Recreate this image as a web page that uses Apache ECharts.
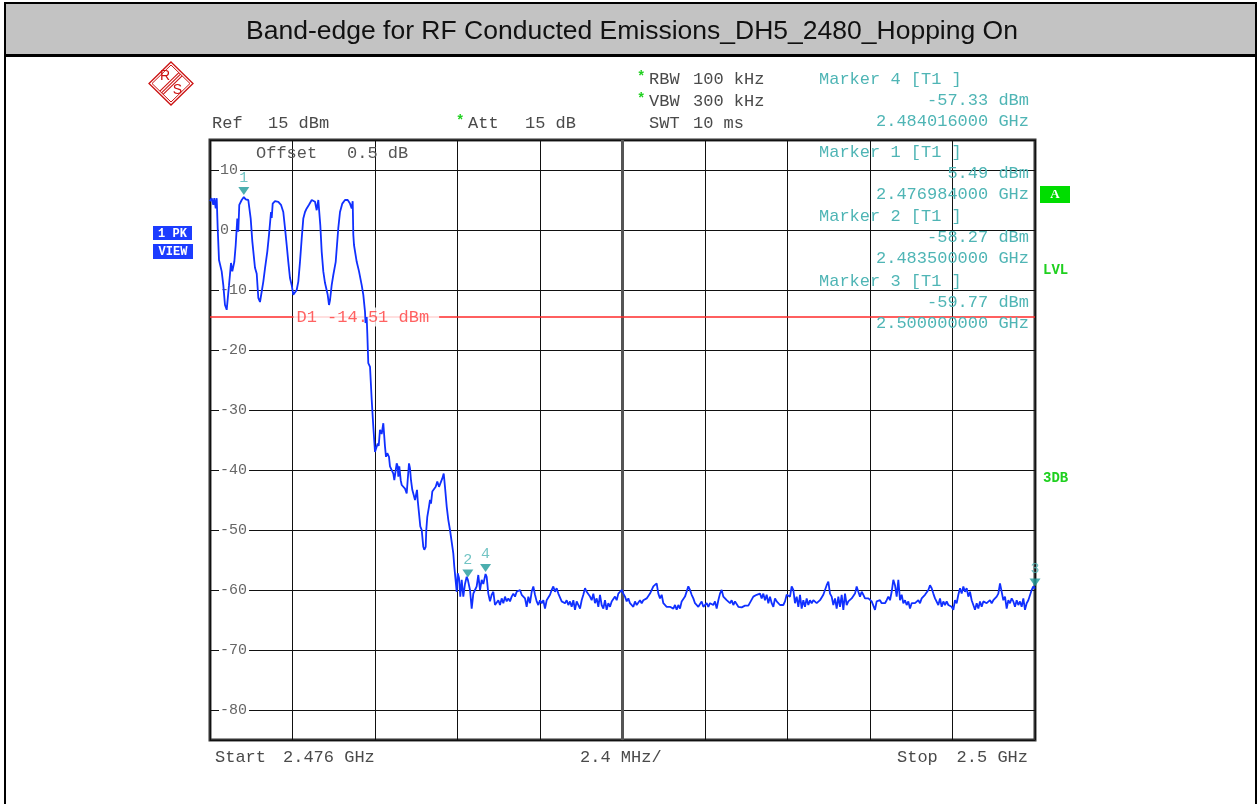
<!DOCTYPE html>
<html><head><meta charset="utf-8">
<script src="https://cdn.jsdelivr.net/npm/echarts@6/dist/echarts.min.js"></script>
<style>html,body{margin:0;padding:0;background:#fff}#c{width:1259px;height:804px}</style>
</head><body><div id="c"></div>
<script>
// ---------------- data ----------------
const chartTitle = 'Band-edge for RF Conducted Emissions_DH5_2480_Hopping On';
const startMHz = 2476, stopMHz = 2500, divMHz = 2.4;
const refLevelDbm = 15, bottomLevelDbm = -85;
const attDb = 15, offsetDb = 0.5;
const rbwText = '100 kHz', vbwText = '300 kHz', swtText = '10 ms';
const d1LevelDbm = -14.51;

// irregular part of the sweep: [frequency MHz, level dBm]
const traceHead = [
 [2476.000,4.8],[2476.049,5.3],[2476.096,4.2],[2476.125,5.3],[2476.166,3.6],[2476.195,5.3],[2476.224,0.3],[2476.262,-5],
 [2476.340,-6.9],[2476.387,-9.2],[2476.436,-12.5],[2476.486,-13.3],[2476.532,-13],[2476.553,-9.2],[2476.611,-5.5],[2476.649,-6.9],
 [2476.707,-5.3],[2476.748,-2.5],[2476.794,1.9],[2476.823,-0.3],[2476.852,4.2],[2476.922,5.0],[2476.969,5.3],[2476.984,5.49],
 [2477.039,5.1],[2477.114,5.0],[2477.143,5.3],[2477.184,1.9],[2477.231,-1.9],[2477.309,-6.3],[2477.359,-7.3],[2477.405,-11.3],
 [2477.455,-12],[2477.504,-11.8],[2477.551,-8.6],[2477.600,-6.4],[2477.667,-3.6],[2477.716,-0.8],[2477.745,-1],[2477.775,3],
 [2477.795,2],[2477.824,4.4],[2477.891,4.8],[2477.987,4.7],[2478.065,4.2],[2478.132,3],[2478.182,0.3],[2478.231,-2.5],
 [2478.278,-5.3],[2478.327,-8],[2478.377,-9.2],[2478.423,-10.8],[2478.473,-11.1],[2478.522,-10],[2478.569,-8.6],[2478.618,-5.3],
 [2478.668,-1.4],[2478.714,1.9],[2478.764,3],[2478.813,3.6],[2478.880,4.2],[2478.959,5],[2479.005,5.3],[2479.055,4.7],
 [2479.104,3.3],[2479.151,5],[2479.180,5.3],[2479.209,0.8],[2479.249,-3.6],[2479.296,-6.9],[2479.345,-8.8],[2479.395,-8.8],
 [2479.424,-10.8],[2479.462,-12.5],[2479.491,-11.7],[2479.540,-9.2],[2479.587,-7.5],[2479.657,-5.3],[2479.732,0.3],[2479.782,3],
 [2479.849,4.4],[2479.927,5],[2480.006,5],[2480.073,4.4],[2480.122,3.6],[2480.151,4.8],[2480.169,-0.8],[2480.189,-2.5],
 [2480.268,-5.3],[2480.335,-6.9],[2480.413,-9.2],[2480.460,-10.8],[2480.509,-13.6],[2480.524,-15.5],[2480.558,-14.5],[2480.576,-17.2],
 [2480.605,-22.2],[2480.655,-22.8],[2480.704,-28.3],[2480.751,-32.8],[2480.800,-37],[2480.849,-37.2],[2480.878,-35.6],[2480.907,-36],
 [2480.945,-33.3],[2480.995,-34],[2481.042,-32.2],[2481.071,-32.5],[2481.091,-36.1],[2481.120,-37.8],[2481.158,-37.2],[2481.207,-37.8],
 [2481.236,-39.4],[2481.286,-39.7],[2481.333,-40.6],[2481.362,-41.7],[2481.402,-41.5],[2481.431,-38.9],[2481.460,-39.4],[2481.478,-41.1],
 [2481.507,-39.4],[2481.548,-41.7],[2481.577,-42.5],[2481.623,-42.8],[2481.673,-43.1],[2481.722,-43.9],[2481.751,-41.7],[2481.789,-38.9],
 [2481.818,-39.7],[2481.847,-41.7],[2481.885,-43.3],[2481.914,-43.9],[2481.964,-45],[2481.993,-45.3],[2482.022,-43.3],[2482.042,-45],
 [2482.080,-47.2],[2482.118,-49.4],[2482.159,-50],[2482.205,-52.8],[2482.234,-53.3],[2482.275,-52.8],[2482.292,-50],[2482.321,-47.8],
 [2482.371,-46.1],[2482.400,-45],[2482.429,-45.6],[2482.467,-43.6],[2482.516,-43.3],[2482.566,-42.8],[2482.612,-41.9],[2482.662,-42.8],
 [2482.711,-43.1],[2482.758,-41.4],[2482.799,-40.6],[2482.836,-42.8],[2482.886,-46.1],[2482.932,-48.3],[2482.982,-50],[2483.031,-50],
 [2483.078,-53.9],[2483.107,-56.1],[2483.136,-55.8],[2483.177,-60.3],[2483.206,-57.2],[2483.244,-58],[2483.281,-61.1],[2483.322,-58.3],
 [2483.369,-61.1],[2483.418,-59],[2483.467,-57.8],[2483.500,-58.27],[2483.564,-60],[2483.613,-63.1],[2483.660,-60.6],[2483.709,-60],
 [2483.758,-59.4],[2483.805,-57.5],[2483.855,-60],[2483.904,-58.3],[2483.951,-59],[2484.016,-57.33],[2484.049,-57.8],[2484.096,-60.6]
];

// noise-floor part of the sweep, uniform sweep points
const floorStartMHz = 2484.1455;
const floorStepMHz = 0.048485;
const floorDbm = [
 -61.9,-60.8,-60.3,-62.5,-62.2,-61.7,-62.5,-61.4,-62.2,-61.1,
 -61.9,-61.4,-61.9,-61.1,-60.6,-61.1,-60.3,-60.6,-60,-60.8,
 -60.6,-61.4,-62.8,-61.1,-62.2,-60.3,-59.4,-60.8,-61.9,-62.5,
 -61.7,-62.2,-61.7,-63.1,-61.7,-61.4,-60.8,-60,-59.4,-60.3,
 -59.7,-60.6,-60.8,-61.9,-61.7,-62.2,-61.7,-62.5,-61.9,-62.8,
 -61.7,-63.3,-61.9,-62.2,-63.1,-61.7,-60.8,-59.7,-60.3,-60,
 -61.1,-61.7,-60.6,-62.2,-61.4,-62.8,-60.8,-62.5,-63.1,-61.7,
 -63.3,-62.2,-62.8,-61.9,-62.2,-61.1,-61.7,-60.6,-60.8,-60,
 -60.6,-61.1,-61.9,-61.4,-62.2,-61.9,-62.8,-61.9,-62.5,-62.8,
 -61.7,-62.2,-61.7,-61.9,-61.4,-61.1,-60.6,-60.3,-59.4,-59.7,
 -58.9,-60.6,-61.4,-60.8,-62.2,-61.9,-62.8,-62.5,-62.8,-62.5,
 -63.1,-62.5,-63.3,-62.5,-63.1,-61.9,-62.2,-61.1,-60.8,-59.4,
 -60,-60.8,-61.4,-62.2,-61.9,-62.8,-62.5,-61.9,-62.8,-62.5,
 -62.2,-62.8,-62.2,-61.9,-62.5,-61.9,-63.1,-61.7,-60.6,-60,
 -61.1,-60.8,-61.7,-61.4,-62.2,-61.7,-62.5,-61.9,-62.2,-62.8,
 -63.1,-62.9,-62.8,-62.6,-62.5,-62.6,-62.8,-61.6,-61.1,-60.9,
 -60.8,-60.7,-60.6,-61.4,-60.6,-61.7,-60.8,-62.2,-61.1,-62.2,
 -62.8,-61.4,-61.9,-61.7,-62.5,-62.8,-62.5,-61.9,-60.8,-61.0,
 -61.1,-59.4,-60,-62.2,-61.1,-62.8,-60.8,-63.1,-61.7,-62.8,
 -61.4,-62.5,-61.7,-62.2,-61.7,-61.9,-62.2,-61.9,-61.7,-61.9,
 -60.8,-60,-59.2,-58.6,-60.6,-61.1,-62.5,-61.4,-63.1,-61.1,
 -62.8,-60.8,-63.3,-60.6,-62.5,-61.9,-62.2,-61.4,-61.7,-60.6,
 -59.4,-60.3,-61.1,-60.3,-60.8,-61.4,-61.7,-61.4,-61.7,-61.9,
 -62.2,-63.3,-61.9,-62.2,-61.7,-62.2,-61.9,-62.2,-61.7,-61.1,
 -61.7,-60.3,-58.3,-59.2,-61.1,-58.3,-61.7,-60.8,-62.2,-61.7,
 -62.5,-61.9,-63.1,-62.2,-61.9,-62.2,-62.5,-61.7,-62.2,-61.4,
 -61.7,-60.8,-60.6,-60,-59.2,-59.7,-60.6,-61.4,-61.1,-62.5,
 -61.4,-62.8,-61.9,-62.5,-61.9,-62.5,-62.2,-62.8,-63.3,-61.7,
 -62.2,-60.8,-59.7,-60.6,-59.4,-60.3,-59.7,-61.1,-60.3,-61.7,
 -62.5,-63.3,-62.2,-63.1,-61.9,-62.8,-61.9,-61.7,-62.2,-61.9,
 -61.7,-62.2,-61.7,-61.9,-61.1,-60.6,-58.9,-59.2,-61.7,-61.1,
 -63.1,-61.7,-62.2,-61.4,-61.9,-62.8,-61.7,-62.5,-61.9,-62.8,
 -61.4,-63.3,-62.2,-61.7,-61.4,-60,-59.4,-59.77
];

// markers
const markerIds = ['1', '2', '3', '4'];
const markerMHz = [2476.984, 2483.5, 2500.0, 2484.016];
const markerDbm = [5.49, -58.27, -59.77, -57.33];
const markerListOrder = [3, 0, 1, 2]; // order shown in the marker readout

// ---------------- chart ----------------
const MONO = '"Liberation Mono", "DejaVu Sans Mono", monospace';
const F17 = '17px ' + MONO;
const HDR = '#4a4a4a';
const TEAL_TXT = '#4fb5b5';
const TEAL_MK = '#1e9a9a';
const GREEN = '#1fd01f';
const BLUE = '#1c3cff';

const traceData = traceHead.map(p => [p[0] - startMHz, p[1]])
  .concat(floorDbm.map((v, i) => [floorStartMHz + i * floorStepMHz - startMHz, v]));
const spanMHz = stopMHz - startMHz;

function txt(text, x, y, o) {
  o = o || {};
  return { type: 'text', z: o.z || 20, silent: true,
    style: { text: text, x: x, y: y, font: o.font || F17, fill: o.fill || HDR,
      textAlign: o.align || 'left', textVerticalAlign: 'middle' } };
}
const ghz = mhz => (mhz / 1000).toFixed(9) + ' GHz';
const fmtG = mhz => String(+(mhz / 1000).toFixed(6)) + ' GHz';

const g = [];
// page frame and title bar
g.push({ type: 'rect', z: 0, silent: true, shape: { x: 5, y: 3, width: 1251, height: 52 }, style: { fill: '#c3c3c3' } });
g.push({ type: 'line', z: 1, silent: true, shape: { x1: 5, y1: 3, x2: 1256, y2: 3 }, style: { stroke: '#000', lineWidth: 2 } });
g.push({ type: 'line', z: 1, silent: true, shape: { x1: 5, y1: 55.5, x2: 1256, y2: 55.5 }, style: { stroke: '#000', lineWidth: 3 } });
g.push({ type: 'line', z: 1, silent: true, shape: { x1: 5, y1: 2, x2: 5, y2: 804 }, style: { stroke: '#000', lineWidth: 2 } });
g.push({ type: 'line', z: 1, silent: true, shape: { x1: 1256, y1: 2, x2: 1256, y2: 804 }, style: { stroke: '#000', lineWidth: 2 } });
g.push(txt(chartTitle, 632, 32, { font: '26.5px "Liberation Sans", Arial, sans-serif', fill: '#111', align: 'center' }));

// R&S logo
const RED = '#cc1111';
g.push({ type: 'polygon', z: 2, silent: true, shape: { points: [[171,62],[193,83.5],[171,105],[149,83.5]] }, style: { fill: 'none', stroke: RED, lineWidth: 1.3 } });
g.push({ type: 'polygon', z: 2, silent: true, shape: { points: [[171,65],[190,83.5],[171,102],[152,83.5]] }, style: { fill: 'none', stroke: RED, lineWidth: 1 } });
[[-1.6,-1.6],[0,0],[1.6,1.6]].forEach(d => {
  g.push({ type: 'line', z: 2, silent: true, shape: { x1: 180.5 + d[0], y1: 74.2 + d[1], x2: 161.5 + d[0], y2: 92.8 + d[1] }, style: { stroke: RED, lineWidth: 1.1 } });
});
g.push(txt('R', 165, 76.5, { font: '14px "Liberation Sans", sans-serif', fill: RED, align: 'center' }));
g.push(txt('S', 177.5, 90.5, { font: '14px "Liberation Sans", sans-serif', fill: RED, align: 'center' }));

// left blue boxes
g.push({ type: 'rect', z: 2, silent: true, shape: { x: 153, y: 226, width: 39, height: 14 }, style: { fill: BLUE } });
g.push({ type: 'rect', z: 2, silent: true, shape: { x: 153, y: 244, width: 40, height: 15 }, style: { fill: BLUE } });
g.push(txt('1 PK', 172.5, 233.5, { font: 'bold 12px ' + MONO, fill: '#fff', align: 'center' }));
g.push(txt('VIEW', 173, 251.8, { font: 'bold 12px ' + MONO, fill: '#fff', align: 'center' }));

// right green indicators
g.push({ type: 'rect', z: 2, silent: true, shape: { x: 1040, y: 186, width: 30, height: 17 }, style: { fill: '#00dd00' } });
g.push(txt('A', 1055, 195, { font: 'bold 13px "Liberation Serif", serif', fill: '#fff', align: 'center' }));
g.push(txt('LVL', 1043, 270, { font: 'bold 14px ' + MONO, fill: GREEN }));
g.push(txt('3DB', 1043, 478, { font: 'bold 14px ' + MONO, fill: GREEN }));

// instrument settings
g.push(txt('Ref', 212, 123));
g.push(txt(refLevelDbm + ' dBm', 268, 123));
g.push(txt('*', 456, 121, { fill: GREEN, font: 'bold 14px ' + MONO }));
g.push(txt('Att', 468, 123));
g.push(txt(attDb + ' dB', 525, 123));
g.push(txt('*', 637, 77, { fill: GREEN, font: 'bold 14px ' + MONO }));
g.push(txt('RBW', 649, 79));
g.push(txt(rbwText, 693, 79));
g.push(txt('*', 637, 99, { fill: GREEN, font: 'bold 14px ' + MONO }));
g.push(txt('VBW', 649, 101));
g.push(txt(vbwText, 693, 101));
g.push(txt('SWT', 649, 123));
g.push(txt(swtText, 693, 123));
g.push(txt('Offset', 256, 153, { fill: '#555' }));
g.push(txt(offsetDb.toFixed(1) + ' dB', 347, 153, { fill: '#555' }));

// marker readout
const blockY = [79, 152, 216, 281];
markerListOrder.forEach((mi, k) => {
  const y0 = blockY[k];
  g.push(txt('Marker ' + markerIds[mi] + ' [T1 ]', 819, y0, { fill: TEAL_TXT }));
  g.push(txt(markerDbm[mi].toFixed(2) + ' dBm', 1029, y0 + 21.3, { fill: TEAL_TXT, align: 'right' }));
  g.push(txt(ghz(markerMHz[mi]), 1029, y0 + 42.6, { fill: TEAL_TXT, align: 'right' }));
});

// bottom annotation
g.push(txt('Start', 215, 757));
g.push(txt(fmtG(startMHz), 283, 757));
g.push(txt(divMHz + ' MHz/', 580, 757));
g.push(txt('Stop', 897, 757));
g.push(txt(fmtG(stopMHz), 1028, 757, { align: 'right' }));

const chart = echarts.init(document.getElementById('c'), null, { renderer: 'canvas', width: 1259, height: 804 });
chart.setOption({
  animation: false,
  backgroundColor: '#fff',
  grid: { left: 210, top: 140, width: 825, height: 600, show: true, borderColor: '#333', borderWidth: 3, backgroundColor: 'transparent' },
  xAxis: {
    type: 'value', min: 0, max: spanMHz, interval: divMHz,
    axisLine: { show: false }, axisTick: { show: false }, axisLabel: { show: false },
    splitLine: { show: true, lineStyle: { color: '#111', width: 1 } }
  },
  yAxis: {
    type: 'value', min: bottomLevelDbm, max: refLevelDbm, splitNumber: 10,
    axisLine: { show: false }, axisTick: { show: false },
    axisLabel: { inside: true, margin: 9, showMinLabel: false, showMaxLabel: false,
      color: '#666', fontFamily: MONO, fontSize: 15, backgroundColor: '#fff', padding: [0, 2, 0, 1] },
    splitLine: { show: true, lineStyle: { color: '#111', width: 1 } }
  },
  graphic: { elements: g },
  series: [
    { // centre double graticule line
      type: 'line', z: 1, silent: true, showSymbol: false,
      data: [[spanMHz / 2, bottomLevelDbm], [spanMHz / 2, refLevelDbm]],
      lineStyle: { color: '#555', width: 3 }
    },
    { // display line D1
      type: 'line', z: 2, silent: true, showSymbol: false,
      data: [[0, d1LevelDbm], [spanMHz, d1LevelDbm]],
      lineStyle: { color: '#ff2a2a', width: 1.5 }
    },
    { // D1 label
      type: 'scatter', z: 3, silent: true, symbolSize: 1,
      itemStyle: { color: 'rgba(0,0,0,0)' },
      data: [[0, d1LevelDbm]],
      label: { show: true, position: 'right', distance: 83,
        formatter: () => 'D1 ' + d1LevelDbm.toFixed(2) + ' dBm',
        color: '#ff3b3b', fontFamily: MONO, fontSize: 17,
        backgroundColor: '#fff', padding: [1, 10, 1, 3] }
    },
    { // trace
      type: 'line', z: 5, silent: true, showSymbol: false, clip: true,
      data: traceData,
      lineStyle: { color: '#1030ff', width: 1.8 }
    },
    { // markers
      type: 'scatter', z: 6, silent: true,
      symbol: 'triangle', symbolRotate: 180, symbolSize: [11, 8], symbolOffset: [0, -6],
      itemStyle: { color: TEAL_MK },
      data: markerIds.map((id, i) => ({ value: [markerMHz[i] - startMHz, markerDbm[i]], name: id })),
      clip: false,
      label: { show: true, position: 'top', distance: 2, formatter: p => p.name,
        color: TEAL_TXT, fontFamily: MONO, fontSize: 15 }
    }
  ]
});
</script></body></html>
